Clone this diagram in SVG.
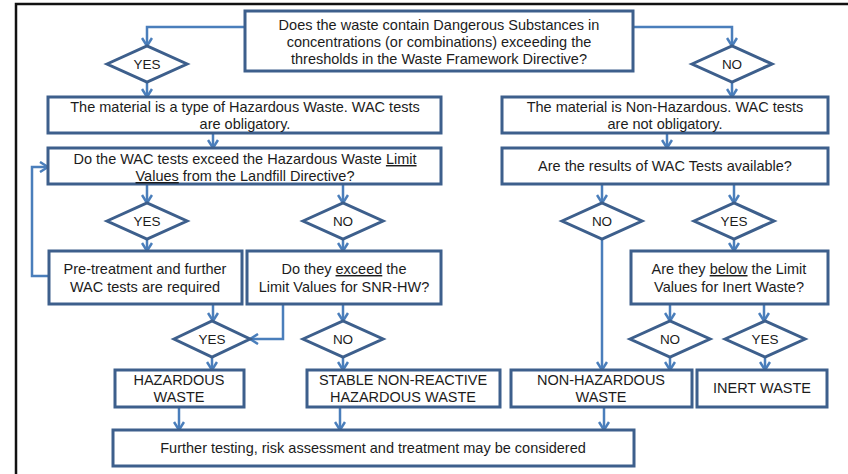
<svg xmlns="http://www.w3.org/2000/svg" width="848" height="474" viewBox="0 0 848 474">
<style>
.box{fill:#fff;stroke:#3D5F8C;stroke-width:3}
.dia{fill:#fff;stroke:#3D5F8C;stroke-width:3;stroke-linejoin:miter}
.con{fill:none;stroke:#4A7EBB;stroke-width:2.5;marker-end:url(#ah)}
text{font-family:"Liberation Sans",Arial,sans-serif;font-size:14.5px;fill:#1c1c1c;text-anchor:middle}
.d{font-size:13.5px}
.u{text-decoration:underline}
</style>
<defs>
<marker id="ah" viewBox="0 0 10 12" refX="9" refY="6" markerWidth="10" markerHeight="12" markerUnits="userSpaceOnUse" orient="auto">
<path d="M1,1 L9,6 L1,11" fill="none" stroke="#4A7EBB" stroke-width="2.5"/>
</marker>
</defs>
<rect width="848" height="474" fill="#fff"/>
<path d="M16,474 V4 H848" fill="none" stroke="#111" stroke-width="2.5"/>

<g id="connectors">
<path class="con" d="M245,27 H147 V46"/>
<path class="con" d="M633,27 H732 V46"/>
<path class="con" d="M147,82 V97"/>
<path class="con" d="M732,82 V97"/>
<path class="con" d="M213,133 V148"/>
<path class="con" d="M667,133 V148"/>
<path class="con" d="M147,184 V203"/>
<path class="con" d="M343,184 V203"/>
<path class="con" d="M602,184 V203"/>
<path class="con" d="M734,184 V203"/>
<path class="con" d="M147,239 V251"/>
<path class="con" d="M343,239 V251"/>
<path class="con" d="M734,239 V251"/>
<path class="con" d="M602,239 V370"/>
<path class="con" d="M49,276 H32 V167 H48"/>
<path class="con" d="M213,304 V321"/>
<path class="con" d="M283,304 V339 H250"/>
<path class="con" d="M343,304 V321"/>
<path class="con" d="M670,304 V321"/>
<path class="con" d="M764,304 V321"/>
<path class="con" d="M212,357 V370"/>
<path class="con" d="M343,357 V370"/>
<path class="con" d="M670,357 V370"/>
<path class="con" d="M765,357 V370"/>
<path class="con" d="M179,407 V430"/>
<path class="con" d="M340,407 V430"/>
<path class="con" d="M604,407 V430"/>
</g>

<g id="q1">
<rect class="box" x="245" y="11" width="388" height="60"/>
<text x="439" y="30">Does the waste contain Dangerous Substances in</text>
<text x="439" y="47">concentrations (or combinations) exceeding the</text>
<text x="439" y="64">thresholds in the Waste Framework Directive?</text>
</g>
<g id="yes1"><polygon class="dia" points="107,64 147,46 187,64 147,82"/><text class="d" x="147" y="69">YES</text></g>
<g id="no1"><polygon class="dia" points="692,64 732,46 772,64 732,82"/><text class="d" x="732" y="69">NO</text></g>

<g id="haz">
<rect class="box" x="48" y="97" width="393" height="36"/>
<text x="245" y="112">The material is a type of Hazardous Waste. WAC tests</text>
<text x="245" y="129">are obligatory.</text>
</g>
<g id="nonhaz">
<rect class="box" x="502" y="97" width="326" height="36"/>
<text x="665" y="112">The material is Non-Hazardous. WAC tests</text>
<text x="665" y="129">are not obligatory.</text>
</g>

<g id="q2">
<rect class="box" x="48" y="148" width="393" height="36"/>
<text x="245" y="164">Do the WAC tests exceed the Hazardous Waste <tspan class="u">Limit</tspan></text>
<text x="245" y="181"><tspan class="u">Values</tspan> from the Landfill Directive?</text>
</g>
<g id="q3">
<rect class="box" x="502" y="148" width="326" height="36"/>
<text x="665" y="171">Are the results of WAC Tests available?</text>
</g>

<g id="yes2"><polygon class="dia" points="107,221 147,203 187,221 147,239"/><text class="d" x="147" y="226">YES</text></g>
<g id="no2"><polygon class="dia" points="303,221 343,203 383,221 343,239"/><text class="d" x="343" y="226">NO</text></g>
<g id="no3"><polygon class="dia" points="562,221 602,203 642,221 602,239"/><text class="d" x="602" y="226">NO</text></g>
<g id="yes3"><polygon class="dia" points="694,221 734,203 774,221 734,239"/><text class="d" x="734" y="226">YES</text></g>

<g id="pretreat">
<rect class="box" x="49" y="251" width="193" height="53"/>
<text x="145" y="274">Pre-treatment and further</text>
<text x="145" y="292">WAC tests are required</text>
</g>
<g id="q4">
<rect class="box" x="247" y="251" width="194" height="53"/>
<text x="344" y="274">Do they <tspan class="u">exceed</tspan> the</text>
<text x="344" y="292">Limit Values for SNR-HW?</text>
</g>
<g id="q5">
<rect class="box" x="631" y="251" width="197" height="53"/>
<text x="729" y="274">Are they <tspan class="u">below</tspan> the Limit</text>
<text x="729" y="292">Values for Inert Waste?</text>
</g>

<g id="yes4"><polygon class="dia" points="174,339 212,321 250,339 212,357"/><text class="d" x="212" y="344">YES</text></g>
<g id="no4"><polygon class="dia" points="303,339 343,321 383,339 343,357"/><text class="d" x="343" y="344">NO</text></g>
<g id="no5"><polygon class="dia" points="630,339 670,321 710,339 670,357"/><text class="d" x="670" y="344">NO</text></g>
<g id="yes5"><polygon class="dia" points="725,339 765,321 805,339 765,357"/><text class="d" x="765" y="344">YES</text></g>

<g id="hw">
<rect class="box" x="115" y="370" width="129" height="37"/>
<text x="179" y="385">HAZARDOUS</text>
<text x="179" y="402">WASTE</text>
</g>
<g id="snrhw">
<rect class="box" x="307" y="370" width="193" height="37"/>
<text x="403" y="385">STABLE NON-REACTIVE</text>
<text x="403" y="402">HAZARDOUS WASTE</text>
</g>
<g id="nhw">
<rect class="box" x="511" y="370" width="181" height="37"/>
<text x="601" y="385">NON-HAZARDOUS</text>
<text x="601" y="402">WASTE</text>
</g>
<g id="inert">
<rect class="box" x="697" y="370" width="130" height="37"/>
<text x="762" y="393">INERT WASTE</text>
</g>

<g id="further">
<rect class="box" x="113" y="430" width="521" height="36"/>
<text x="373" y="453">Further testing, risk assessment and treatment may be considered</text>
</g>
</svg>
